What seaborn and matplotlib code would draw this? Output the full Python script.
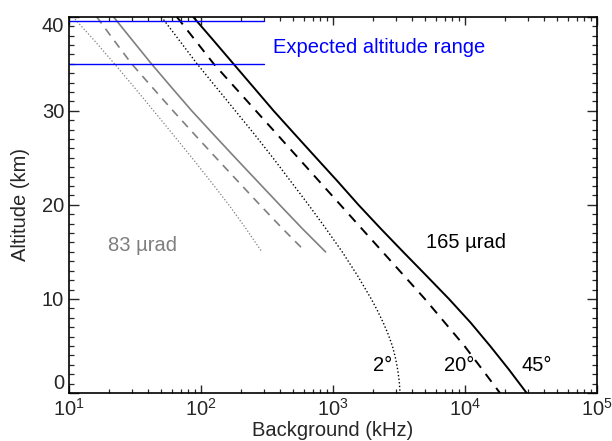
import numpy as np
import pandas as pd
import matplotlib
matplotlib.use("Agg")
import matplotlib.pyplot as plt
import seaborn as sns

sns.set_theme(style="ticks")
plt.rcParams["font.family"] = ["Liberation Sans", "DejaVu Sans"]
plt.rcParams["mathtext.fontset"] = "custom"
plt.rcParams["mathtext.rm"] = "Liberation Sans"

# -------- data --------
# 165 urad curves (black), altitude in km, background in kHz
alt_black = [40, 37.5, 35, 32.5, 30, 27.5, 25, 22.5, 20, 17.5, 15, 12.5, 10, 7.5, 5, 2.5, 0]
bg_45deg = [87, 124, 176, 250, 355, 514, 746, 1084, 1560, 2290, 3400, 5080,
            7560, 11000, 15500, 21500, 29310]
bg_20deg = [65.5, 90.4, 124.7, 180.3, 260.6, 376.7, 544.5, 787, 1138, 1644, 2377,
            3436, 4966, 7015, 9908, 13520, 18410]

alt_dot = [40, 37.5, 35, 32.5, 30, 27.5, 25, 22.5, 20, 17.5, 15, 12.5, 10, 8.75,
           7.5, 6.25, 5, 3.75, 2.5, 1.25, 0]
bg_2deg = [50.1, 68.4, 93.3, 130.3, 182, 254.1, 350.8, 478.6, 653.1, 881, 1175,
           1531, 1950, 2173, 2399, 2618, 2818, 2972, 3090, 3177, 3221]

# 83 urad curves (gray)
alt_gray = [40, 37.5, 35, 32.5, 30, 27.5, 25, 22.5, 20, 17.5, 15]
bg_gray_45 = [21.7, 30.2, 42.1, 59.7, 85.1, 124.2, 182, 267.9, 394.5, 583.4, 879]
bg_gray_20 = [16.2, 21.9, 29.8, 42.7, 61.4, 89.1, 130, 190.5, 279.3, 413, 620.9]
bg_gray_2 = [10.7, 15.5, 22.1, 31.2, 43.8, 61.2, 85.5, 118.3, 162.6, 218.8, 289.1]

range_alts = [39.5, 35.0]
range_x = [10, 300]

black = pd.DataFrame({"alt": alt_black, "45": bg_45deg, "20": bg_20deg})
black_dot = pd.DataFrame({"alt": alt_dot, "2": bg_2deg})
gray = pd.DataFrame({"alt": alt_gray, "45": bg_gray_45, "20": bg_gray_20, "2": bg_gray_2})

fig = plt.figure(figsize=(6.12, 4.41), dpi=100)
ax = fig.add_axes([0.1127, 0.1088, 0.8628, 0.8533])

dash = (0, (5, 4))
dots = (0, (1, 1.6))
sns.lineplot(data=black, x="45", y="alt", ax=ax, color="black", lw=1.4, sort=False, estimator=None)
sns.lineplot(data=black, x="20", y="alt", ax=ax, color="black", lw=1.4, linestyle=dash,
             sort=False, estimator=None)
sns.lineplot(data=black_dot, x="2", y="alt", ax=ax, color="black", lw=1.0, linestyle=dots,
             sort=False, estimator=None)
sns.lineplot(data=gray, x="45", y="alt", ax=ax, color="#7f7f7f", lw=1.2, sort=False, estimator=None)
sns.lineplot(data=gray, x="20", y="alt", ax=ax, color="#7f7f7f", lw=1.2, linestyle=dash,
             sort=False, estimator=None)
sns.lineplot(data=gray, x="2", y="alt", ax=ax, color="#7f7f7f", lw=0.9, linestyle=dots,
             sort=False, estimator=None)

for a in range_alts:
    ax.plot(range_x, [a, a], color="#0000ff", lw=1.0)

ax.set_xscale("log")
ax.set_xlim(10, 1e5)
ax.set_ylim(0, 40)
ax.set_yticks([0, 10, 20, 30, 40])
ax.set_yticks(np.arange(0, 41, 1), minor=True)
ax.tick_params(which="both", direction="in", top=True, right=True, labelsize=14.5)
ax.tick_params(axis="x", which="major", length=5.8, width=1)
ax.tick_params(axis="x", which="minor", length=2.9, width=0.9)
ax.tick_params(axis="y", which="major", length=7.2, width=1)
ax.tick_params(axis="y", which="minor", length=3.6, width=0.9)
for s in ax.spines.values():
    s.set_linewidth(1.2)
    s.set_color("black")

labels = ax.get_yticklabels()
labels[0].set_va("bottom")
labels[-1].set_va("top")

ax.set_xlabel("Background (kHz)", fontsize=14.5, labelpad=1)
ax.set_ylabel("Altitude (km)", fontsize=14.5, labelpad=8.5)

ax.text(353, 36.7, "Expected altitude range", color="#0000ff", fontsize=14.5, va="center")
ax.text(19.7, 15.7, "83 \u00b5rad", color="#7f7f7f", fontsize=14.5, va="center")
ax.text(5070, 16.0, "165 \u00b5rad", color="black", fontsize=14.5, va="center")
ax.text(2010, 2.9, "2\u00b0", color="black", fontsize=14.5, va="center")
ax.text(6920, 2.9, "20\u00b0", color="black", fontsize=14.5, va="center")
ax.text(26900, 2.9, "45\u00b0", color="black", fontsize=14.5, va="center")

fig.savefig("out.png", dpi=100)
